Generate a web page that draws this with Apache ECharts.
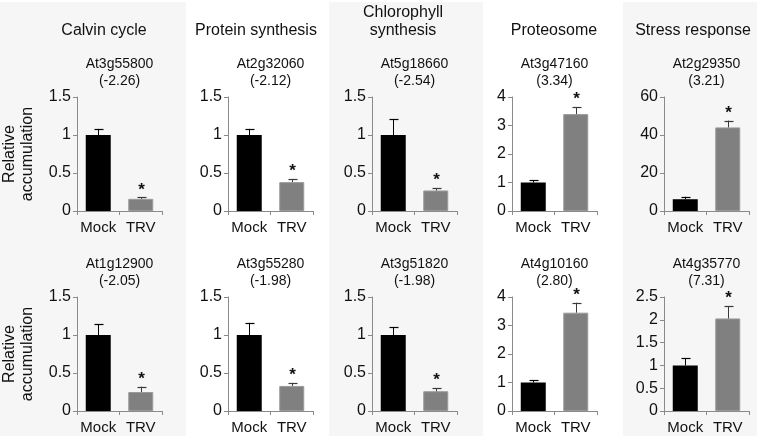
<!DOCTYPE html>
<html>
<head>
<meta charset="utf-8">
<script src="https://cdn.jsdelivr.net/npm/echarts@6/dist/echarts.min.js"></script>
<style>
html,body{margin:0;padding:0;background:#fff;}
#main{width:757px;height:436px;}
</style>
</head>
<body>
<div id="main"></div>
<script>
// 数据
var categories = ['Mock', 'TRV'];
var panelTitles = ['Calvin cycle', 'Protein synthesis', 'Chlorophyll\nsynthesis', 'Proteosome', 'Stress response'];

var genesTop = ['At3g55800', 'At2g32060', 'At5g18660', 'At3g47160', 'At2g29350'];
var foldTop = ['(-2.26)', '(-2.12)', '(-2.54)', '(3.34)', '(3.21)'];
var mockTop = [1, 1, 1, 1, 6.2];
var mockErrTop = [0.08, 0.08, 0.21, 0.08, 1.3];
var trvTop = [0.16, 0.38, 0.27, 3.4, 44];
var trvErrTop = [0.02, 0.04, 0.03, 0.24, 3.6];
var yMaxTop = [1.5, 1.5, 1.5, 4, 60];
var yStepTop = [0.5, 0.5, 0.5, 1, 20];

var genesBottom = ['At1g12900', 'At3g55280', 'At3g51820', 'At4g10160', 'At4g35770'];
var foldBottom = ['(-2.05)', '(-1.98)', '(-1.98)', '(2.80)', '(7.31)'];
var mockBottom = [1, 1, 1, 1, 1];
var mockErrBottom = [0.14, 0.16, 0.10, 0.08, 0.16];
var trvBottom = [0.25, 0.33, 0.26, 3.45, 2.03];
var trvErrBottom = [0.07, 0.04, 0.04, 0.35, 0.27];
var yMaxBottom = [1.5, 1.5, 1.5, 4, 2.5];
var yStepBottom = [0.5, 0.5, 0.5, 1, 0.5];

var FONT = 'Liberation Sans, Arial, sans-serif';
var colLeft = [77, 228, 372, 512, 664];
var plotW = 85;
var rowTop = [97, 297];
var plotH = 114;

var myChart = echarts.init(document.getElementById('main'), null, {renderer: 'canvas'});

function errRender(params, api) {
    var v = api.value(1), e = api.value(2), star = api.value(3);
    var idx = api.value(0);
    var p0 = api.coord([idx, v]);
    var p1 = api.coord([idx, v + e]);
    var x = Math.round(p0[0]) + 0.5;
    var col = idx === 0 ? '#000' : '#3a3a3a';
    var kids = [
        {type: 'line', shape: {x1: x, y1: p0[1], x2: x, y2: p1[1]}, style: {stroke: col, lineWidth: 1}},
        {type: 'line', shape: {x1: x - 4, y1: Math.round(p1[1]) + 0.5, x2: x + 5, y2: Math.round(p1[1]) + 0.5}, style: {stroke: col, lineWidth: 1.2}}
    ];
    if (star) {
        kids.push({type: 'text', x: x, y: p1[1] + 1,
            style: {text: '*', align: 'center', verticalAlign: 'bottom', font: 'bold 17px ' + FONT, fill: '#111'}});
    }
    return {type: 'group', children: kids};
}

var grid = [], xAxis = [], yAxis = [], series = [], graphic = [];

// 背景
graphic.push({type: 'rect', shape: {x: 0, y: 2, width: 186, height: 434}, style: {fill: '#f6f6f6'}, z: -10});
graphic.push({type: 'rect', shape: {x: 329, y: 2, width: 154, height: 434}, style: {fill: '#f6f6f6'}, z: -10});
graphic.push({type: 'rect', shape: {x: 623, y: 2, width: 134, height: 434}, style: {fill: '#f6f6f6'}, z: -10});

var rows = [
    {genes: genesTop, fold: foldTop, mock: mockTop, mockErr: mockErrTop, trv: trvTop, trvErr: trvErrTop, max: yMaxTop, step: yStepTop},
    {genes: genesBottom, fold: foldBottom, mock: mockBottom, mockErr: mockErrBottom, trv: trvBottom, trvErr: trvErrBottom, max: yMaxBottom, step: yStepBottom}
];

rows.forEach(function (r, ri) {
    for (var c = 0; c < 5; c++) {
        var gi = grid.length;
        grid.push({left: colLeft[c], top: rowTop[ri], width: plotW, height: plotH});
        xAxis.push({
            type: 'category', gridIndex: gi, data: categories,
            axisLine: {lineStyle: {color: '#8a8a8a'}},
            axisTick: {show: true, length: 4, lineStyle: {color: '#8a8a8a'}},
            axisLabel: {color: '#111', fontSize: 15, fontFamily: FONT, margin: 9, interval: 0}
        });
        yAxis.push({
            type: 'value', gridIndex: gi, min: 0, max: r.max[c], interval: r.step[c],
            splitLine: {show: false},
            axisLine: {show: true, lineStyle: {color: '#8a8a8a'}},
            axisTick: {show: true, length: 4, lineStyle: {color: '#8a8a8a'}},
            axisLabel: {color: '#111', fontSize: 16, fontFamily: FONT, margin: 6}
        });
        series.push({
            type: 'bar', xAxisIndex: gi, yAxisIndex: gi, barWidth: 25,
            data: [
                {value: r.mock[c], itemStyle: {color: '#000'}},
                {value: r.trv[c], itemStyle: {color: '#808080', borderColor: '#9a9a9a', borderWidth: 1}}
            ],
            silent: true, animation: false
        });
        series.push({
            type: 'custom', xAxisIndex: gi, yAxisIndex: gi, renderItem: errRender,
            data: [[0, r.mock[c], r.mockErr[c], 0], [1, r.trv[c], r.trvErr[c], 1]],
            encode: {x: 0, y: 1}, z: 5, silent: true, animation: false
        });
        var cx = colLeft[c] + plotW / 2;
        graphic.push({type: 'text', x: cx, y: rowTop[ri] - 7, style: {
            text: r.genes[c] + '\n' + r.fold[c], align: 'center', verticalAlign: 'bottom',
            font: '14px ' + FONT, fill: '#111', lineHeight: 17}});
    }
    graphic.push({type: 'text', x: 19, y: rowTop[ri] + plotH / 2, rotation: Math.PI / 2, style: {
        text: 'Relative\naccumulation', align: 'center', verticalAlign: 'middle',
        font: '16px ' + FONT, fill: '#111', lineHeight: 18}});
});

// 列标题
var titleX = [104, 256, 403, 554, 693];
panelTitles.forEach(function (t, i) {
    graphic.push({type: 'text', x: titleX[i], y: 40, style: {
        text: t, align: 'center', verticalAlign: 'bottom', font: '16px ' + FONT, fill: '#111', lineHeight: 18}});
});

var option = {
    animation: false,
    grid: grid,
    xAxis: xAxis,
    yAxis: yAxis,
    series: series,
    graphic: graphic
};
myChart.setOption(option);
</script>
</body>
</html>
